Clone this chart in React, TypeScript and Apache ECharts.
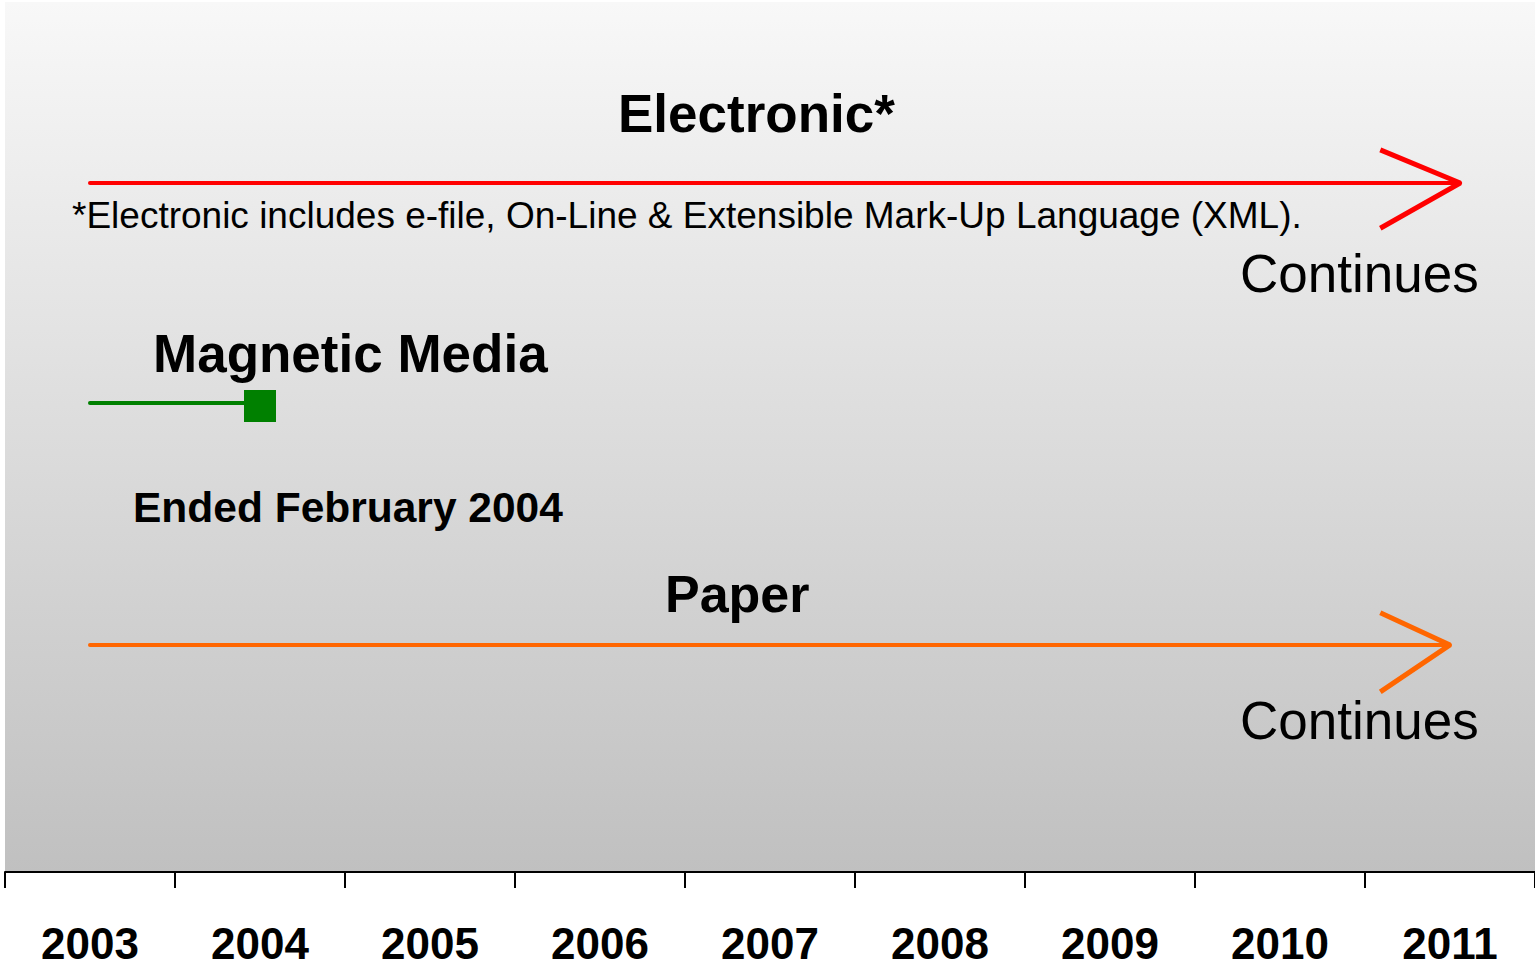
import React, { useEffect, useRef } from "react";
import * as echarts from "echarts";

const years = ["2003", "2004", "2005", "2006", "2007", "2008", "2009", "2010", "2011"];

// [year position, vertical level 0..100]
const electronicLine = [[2003, 79.2], [2011.06, 79.2]];
const electronicArrow = [[2010.59, 83.0], [2011.06, 79.2], [2010.59, 74.0]];
const magneticLine = [[2003, 53.9], [2004, 53.9]];
const paperLine = [[2003, 26.1], [2011.0, 26.1]];
const paperArrow = [[2010.59, 29.8], [2011.0, 26.1], [2010.59, 20.7]];

const FONT = 'Arial, "Liberation Sans", sans-serif';

export default function App() {
  const ref = useRef<HTMLDivElement>(null);
  useEffect(() => {
    document.body.style.margin = "0";
    document.body.style.overflow = "hidden";
    const chart = echarts.init(ref.current!, null, { renderer: "svg" });
    const txt = (text: string, x: number, y: number, size: number, bold: boolean, align = "left") => ({
      type: "text",
      x,
      y,
      style: {
        text,
        fontSize: size,
        fontWeight: bold ? "bold" : "normal",
        fontFamily: FONT,
        fill: "#000",
        align,
        verticalAlign: "middle",
      },
    });
    chart.setOption({
      animation: false,
      grid: {
        left: 5,
        right: 0,
        top: 2,
        bottom: 97,
        containLabel: false,
        show: true,
        borderWidth: 0,
        backgroundColor: new echarts.graphic.LinearGradient(0, 0, 0, 1, [
          { offset: 0, color: "#f8f8f8" },
          { offset: 1, color: "#c0c0c0" },
        ]),
      },
      xAxis: [
        {
          type: "category",
          data: years,
          boundaryGap: true,
          axisLine: { show: true, lineStyle: { color: "#000", width: 2 } },
          axisTick: { show: true, length: 16, lineStyle: { color: "#000", width: 2 } },
          axisLabel: {
            fontSize: 44,
            fontWeight: "bold",
            fontFamily: FONT,
            color: "#000",
            margin: 53,
            lineHeight: 36,
            interval: 0,
          },
          splitLine: { show: false },
        },
        { type: "value", min: 2002.5, max: 2011.5, show: false },
      ],
      yAxis: { type: "value", min: 0, max: 100, show: false },
      series: [
        {
          type: "line",
          xAxisIndex: 1,
          data: electronicLine,
          symbol: "none",
          lineStyle: { color: "#ff0000", width: 4, cap: "round" },
        },
        {
          type: "line",
          xAxisIndex: 1,
          data: electronicArrow,
          symbol: "none",
          lineStyle: { color: "#ff0000", width: 5 },
        },
        {
          type: "line",
          xAxisIndex: 1,
          data: magneticLine.map((p, i) =>
            i === magneticLine.length - 1
              ? { value: p, symbol: "rect", symbolSize: 32, symbolOffset: [0, 3] }
              : { value: p, symbol: "none" }
          ),
          showSymbol: true,
          itemStyle: { color: "#008000" },
          lineStyle: { color: "#008000", width: 4, cap: "round" },
        },
        {
          type: "line",
          xAxisIndex: 1,
          data: paperLine,
          symbol: "none",
          lineStyle: { color: "#ff6600", width: 4, cap: "round" },
        },
        {
          type: "line",
          xAxisIndex: 1,
          data: paperArrow,
          symbol: "none",
          lineStyle: { color: "#ff6600", width: 5 },
        },
      ],
      graphic: [
        txt("Electronic*", 618, 113, 53, true),
        txt("*Electronic includes e-file, On-Line & Extensible Mark-Up Language (XML).", 72, 215, 37, false),
        txt("Continues", 1240, 273, 53, false),
        txt("Magnetic Media", 153, 353, 53, true),
        txt("Ended February 2004", 133, 507, 42.5, true),
        txt("Paper", 665, 594, 52, true),
        txt("Continues", 1240, 720, 53, false),
      ],
    });
    return () => chart.dispose();
  }, []);
  return <div ref={ref} style={{ width: 1535, height: 969 }} />;
}
